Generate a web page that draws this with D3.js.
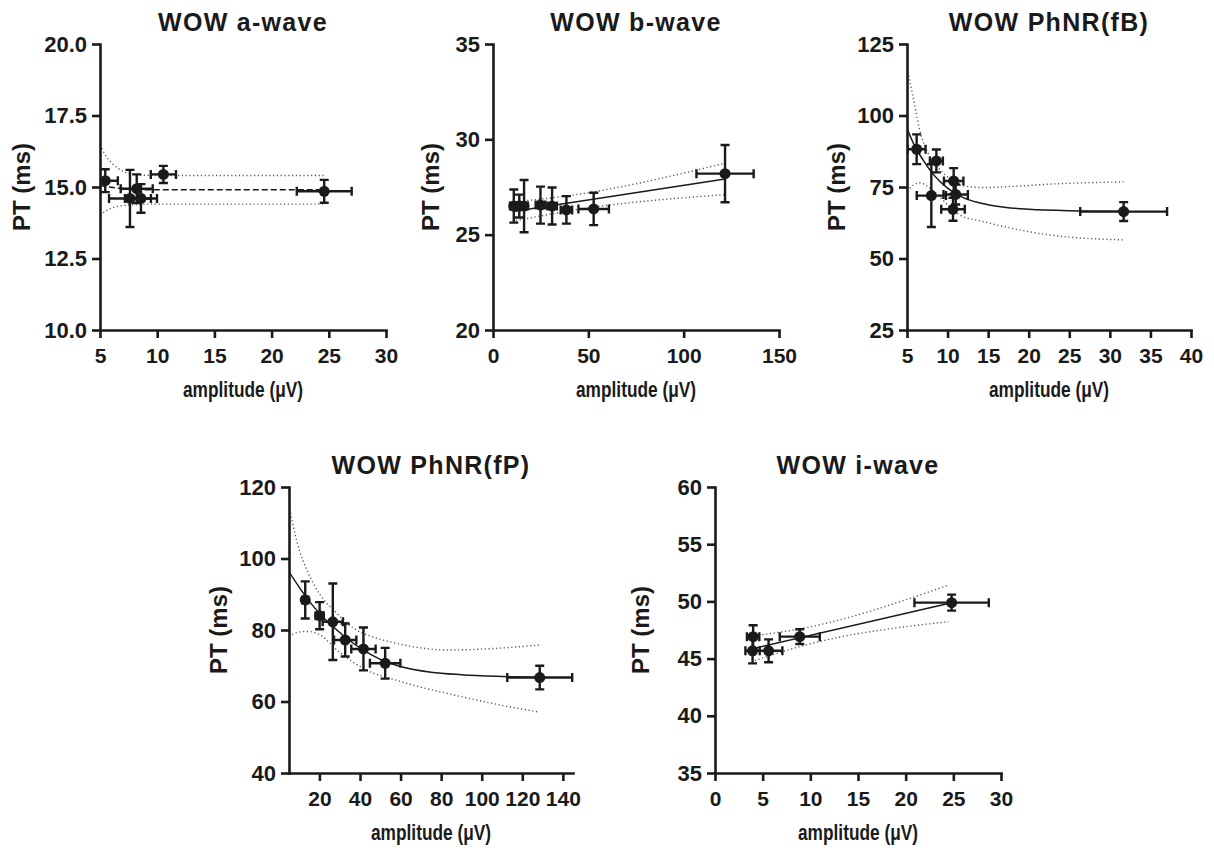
<!DOCTYPE html>
<html lang="en">
<head>
<meta charset="UTF-8">
<title>WOW amplitude vs PT</title>
<style>
  body { margin: 0; background: #fff; }
  svg text { font-family: "Liberation Sans", Arial, Helvetica, sans-serif; font-weight: bold; fill: #1a1a1a; }
</style>
</head>
<body>
<svg id="chart" width="1214" height="850"></svg>
<script src="https://d3js.org/d3.v7.min.js"></script>
<script>
// ---- a-wave ----
const aAmp    = [5.46, 7.62, 8.21, 8.58, 10.54, 24.6];
const aPT     = [15.22, 14.6, 14.94, 14.6, 15.44, 14.85];
const aAmpSD  = [1.1, 1.83, 1.4, 1.4, 1.1, 2.4];
const aPTSD   = [0.4, 1.0, 0.5, 0.5, 0.3, 0.4];
const aFitAmp = [5, 6, 7, 8, 10, 15, 24.6];
const aFitPT  = [15.05, 14.99, 14.95, 14.92, 14.9, 14.9, 14.9];
const aBandAmp = [5, 5.5, 6, 7, 8, 9, 12, 24.6];
const aBandUp  = [16.47, 16.1, 15.85, 15.55, 15.44, 15.41, 15.4, 15.4];
const aBandLo  = [14.02, 14.16, 14.26, 14.35, 14.38, 14.4, 14.4, 14.4];

// ---- b-wave ----
const bAmp    = [10.9, 13.8, 16.3, 24.9, 31.0, 38.5, 52.8, 121.7];
const bPT     = [26.5, 26.5, 26.5, 26.55, 26.5, 26.3, 26.35, 28.2];
const bAmpSD  = [2, 2, 2, 2.5, 2.5, 3, 8, 15];
const bPTSD   = [0.87, 0.6, 1.37, 0.97, 0.97, 0.72, 0.85, 1.5];
const bFitAmp = [10.5, 121.7];
const bFitPT  = [26.21, 27.92];
const bBandAmp = [12, 40, 121.7];
const bBandUp  = [26.73, 27.05, 28.75];
const bBandLo  = [25.73, 26.25, 27.1];

// ---- PhNR(fB) ----
const cAmp    = [6.19, 8.62, 8.0, 10.75, 11.0, 10.67, 31.7];
const cPT     = [88.2, 84.1, 72.0, 77.1, 72.4, 67.2, 66.4];
const cAmpSD  = [1.1, 0.8, 1.8, 1.2, 1.5, 1.45, 5.35];
const cPTSD   = [5.2, 4.0, 11.0, 4.5, 3.5, 4.0, 3.3];
const cFitAmp = [5, 6, 7, 8, 9, 10, 12, 14, 17, 20, 25, 31.7];
const cFitPT  = [95.5, 89.0, 84.4, 80.3, 77.1, 74.6, 71.2, 69.4, 67.9, 67.2, 66.7, 66.5];
const cBandAmp = [5, 5.74, 6.56, 7.6, 8.4, 10.26, 11.5, 14.4, 18, 22.6, 31.7];
const cBandUp  = [116.5, 106.6, 95, 86.8, 83.3, 78.0, 75.7, 74.8, 75.2, 76.0, 76.8];
const cBandLo  = [73.6, 75.6, 76.5, 75.1, 73.3, 68.1, 65.2, 62.9, 60.5, 58.2, 56.5];

// ---- PhNR(fP) ----
const dAmp    = [13.0, 20.1, 26.6, 32.7, 41.7, 52.4, 128.6];
const dPT     = [88.4, 84.0, 82.3, 77.2, 74.7, 70.7, 66.7];
const dAmpSD  = [1.5, 2.0, 5.0, 5.5, 6.0, 7.5, 16.0];
const dPTSD   = [5.2, 3.8, 10.7, 4.6, 6.0, 4.3, 3.3];
const dFitAmp = [5, 10, 15, 20, 25, 30, 35, 40, 50, 60, 75, 90, 110, 128.6];
const dFitPT  = [96.3, 92.0, 88.0, 84.7, 81.8, 79.3, 77.0, 75.0, 71.8, 69.8, 68.2, 67.5, 67.0, 66.7];
const dBandAmp = [5, 9, 14.2, 20.4, 28.6, 36.8, 45, 54.8, 70, 82.7, 105, 128.6];
const dBandUp  = [114.9, 104.5, 96.3, 89.8, 84.7, 80.5, 78.3, 76.7, 75.0, 74.4, 74.8, 75.8];
const dBandLo  = [78.1, 79.3, 79.6, 78.6, 74.4, 70.9, 68.3, 66.5, 64.0, 62.3, 59.5, 57.0];

// ---- i-wave ----
const eAmp    = [4.0, 3.94, 5.62, 8.89, 24.82];
const ePT     = [46.92, 45.68, 45.68, 46.92, 49.89];
const eAmpSD  = [0.65, 0.75, 1.45, 2.1, 3.9];
const ePTSD   = [1.0, 1.1, 1.0, 0.65, 0.7];
const eFitAmp = [4.18, 24.82];
const eFitPT  = [45.91, 49.89];
const eBandAmp = [4.18, 8.9, 24.5];
const eBandUp  = [47.0, 47.6, 51.43];
const eBandLo  = [44.83, 46.05, 48.23];

// tick labels
const aXTicks = [5, 10, 15, 20, 25, 30],  aYTicks = [10, 12.5, 15, 17.5, 20];
const bXTicks = [0, 50, 100, 150],        bYTicks = [20, 25, 30, 35];
const cXTicks = [5, 10, 15, 20, 25, 30, 35, 40], cYTicks = [25, 50, 75, 100, 125];
const dXTicks = [20, 40, 60, 80, 100, 120, 140], dYTicks = [40, 60, 80, 100, 120];
const eXTicks = [0, 5, 10, 15, 20, 25, 30], eYTicks = [35, 40, 45, 50, 55, 60];

const panels = [
  { id: "a", title: "WOW a-wave", amp: aAmp, pt: aPT, ampSD: aAmpSD, ptSD: aPTSD,
    fitAmp: aFitAmp, fitPT: aFitPT, bandAmp: aBandAmp, bandUp: aBandUp, bandLo: aBandLo,
    xTicks: aXTicks, yTicks: aYTicks, xDomain: [5, 30], yDomain: [10, 20], yFmt: d3.format(".1f"),
    fitDash: "6,3", left: 100, top: 44, width: 286, height: 286, labelOff: 70 },
  { id: "b", title: "WOW b-wave", amp: bAmp, pt: bPT, ampSD: bAmpSD, ptSD: bPTSD,
    fitAmp: bFitAmp, fitPT: bFitPT, bandAmp: bBandAmp, bandUp: bBandUp, bandLo: bBandLo,
    xTicks: bXTicks, yTicks: bYTicks, xDomain: [0, 150], yDomain: [20, 35], yFmt: d3.format("d"),
    fitDash: null, left: 493, top: 44, width: 286, height: 286, labelOff: 54 },
  { id: "c", title: "WOW PhNR(fB)", amp: cAmp, pt: cPT, ampSD: cAmpSD, ptSD: cPTSD,
    fitAmp: cFitAmp, fitPT: cFitPT, bandAmp: cBandAmp, bandUp: cBandUp, bandLo: cBandLo,
    xTicks: cXTicks, yTicks: cYTicks, xDomain: [5, 40], yDomain: [25, 125], yFmt: d3.format("d"),
    fitDash: null, left: 907, top: 44, width: 284, height: 286, labelOff: 62 },
  { id: "d", title: "WOW PhNR(fP)", amp: dAmp, pt: dPT, ampSD: dAmpSD, ptSD: dPTSD,
    fitAmp: dFitAmp, fitPT: dFitPT, bandAmp: dBandAmp, bandUp: dBandUp, bandLo: dBandLo,
    xTicks: dXTicks, yTicks: dYTicks, xDomain: [5, 145], yDomain: [40, 120], yFmt: d3.format("d"),
    fitDash: null, left: 289, top: 487, width: 284, height: 286, labelOff: 62 },
  { id: "e", title: "WOW i-wave", amp: eAmp, pt: ePT, ampSD: eAmpSD, ptSD: ePTSD,
    fitAmp: eFitAmp, fitPT: eFitPT, bandAmp: eBandAmp, bandUp: eBandUp, bandLo: eBandLo,
    xTicks: eXTicks, yTicks: eYTicks, xDomain: [0, 30], yDomain: [35, 60], yFmt: d3.format("d"),
    fitDash: null, left: 715, top: 487, width: 286, height: 286, labelOff: 66 }
];

const svg = d3.select("#chart");
const ink = "#1a1a1a";

function drawPanel(p) {
  const x = d3.scaleLinear().domain(p.xDomain).range([p.left, p.left + p.width]);
  const y = d3.scaleLinear().domain(p.yDomain).range([p.top + p.height, p.top]);
  const g = svg.append("g");

  svg.append("clipPath").attr("id", "clip-" + p.id)
    .append("rect")
    .attr("x", p.left).attr("y", p.top - 20)
    .attr("width", p.width + 20).attr("height", p.height + 20);

  const plot = g.append("g").attr("clip-path", `url(#clip-${p.id})`);
  const line = d3.line().x(d => x(d[0])).y(d => y(d[1])).curve(d3.curveMonotoneX);

  // confidence bands
  [p.bandUp, p.bandLo].forEach(b => {
    plot.append("path")
      .datum(d3.zip(p.bandAmp, b))
      .attr("d", line)
      .attr("fill", "none")
      .attr("stroke", "#555")
      .attr("stroke-width", 1.4)
      .attr("stroke-dasharray", "1.2,2.6");
  });

  // fit
  plot.append("path")
    .datum(d3.zip(p.fitAmp, p.fitPT))
    .attr("d", line)
    .attr("fill", "none")
    .attr("stroke", ink)
    .attr("stroke-width", 1.5)
    .attr("stroke-dasharray", p.fitDash);

  const pts = d3.range(p.amp.length).map(i => ({ a: p.amp[i], t: p.pt[i], ea: p.ampSD[i], et: p.ptSD[i] }));
  const cap = 4.5;
  const eb = plot.selectAll(".eb").data(pts).enter().append("g")
    .attr("stroke", ink).attr("stroke-width", 2.4).attr("fill", "none");

  eb.append("path").attr("d", d => {
    const x0 = x(d.a - d.ea), x1 = x(d.a + d.ea), yy = y(d.t);
    return `M${x0},${yy}H${x1}M${x0},${yy - cap}V${yy + cap}M${x1},${yy - cap}V${yy + cap}`;
  });
  eb.append("path").attr("d", d => {
    const y0 = y(d.t - d.et), y1 = y(d.t + d.et), xx = x(d.a);
    return `M${xx},${y0}V${y1}M${xx - cap},${y0}H${xx + cap}M${xx - cap},${y1}H${xx + cap}`;
  });

  plot.selectAll(".pt").data(pts).enter().append("circle")
    .attr("cx", d => x(d.a))
    .attr("cy", d => y(d.t))
    .attr("r", 5.5)
    .attr("fill", ink);

  // axes
  const xAxis = d3.axisBottom(x).tickValues(p.xTicks).tickSizeInner(8).tickSizeOuter(0).tickPadding(10);
  const yAxis = d3.axisLeft(y).tickValues(p.yTicks).tickSizeInner(8).tickSizeOuter(0).tickPadding(5).tickFormat(p.yFmt);

  const gx = g.append("g").attr("transform", `translate(0,${p.top + p.height})`).call(xAxis);
  const gy = g.append("g").attr("transform", `translate(${p.left},0)`).call(yAxis);

  [gx, gy].forEach((ax, i) => {
    ax.select(".domain").attr("stroke", ink).attr("stroke-width", 2.6).attr("stroke-linecap", "square");
    ax.selectAll(".tick line").attr("stroke", ink).attr("stroke-width", 2.6);
    ax.selectAll(".tick text").attr("font-size", i === 0 ? 21 : 22).attr("fill", ink)
      .style("font-family", '"Liberation Sans", Arial, sans-serif').style("font-weight", "bold");
  });

  // titles and labels
  const cx = p.left + p.width / 2;
  g.append("text")
    .attr("x", cx).attr("y", p.top - 13)
    .attr("text-anchor", "middle")
    .attr("font-size", 25)
    .attr("letter-spacing", 1.3)
    .text(p.title);

  g.append("text")
    .attr("transform", `translate(${p.left - p.labelOff},${p.top + p.height / 2}) rotate(-90)`)
    .attr("text-anchor", "middle")
    .attr("font-size", 24)
    .text("PT (ms)");

  g.append("text")
    .attr("x", cx - 60).attr("y", p.top + p.height + 67)
    .attr("font-size", 22)
    .attr("textLength", 120)
    .attr("lengthAdjust", "spacingAndGlyphs")
    .text("amplitude (\u03BCV)");
}

panels.forEach(drawPanel);
</script>
</body>
</html>
